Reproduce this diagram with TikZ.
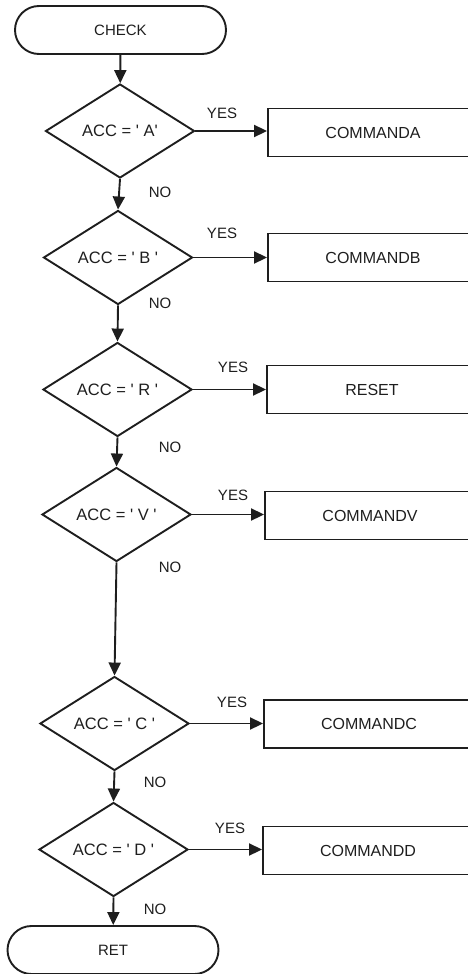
\documentclass[tikz,border=0pt]{standalone}
\usepackage{fontspec}
\setmainfont{Liberation Sans}
\usetikzlibrary{shapes.geometric,arrows.meta}
\definecolor{ink}{RGB}{30,30,30}
\begin{document}
\begin{tikzpicture}[x=1pt,y=-1pt,
  every node/.style={font=\fontsize{15}{18}\selectfont, text=ink},
  flow/.style={draw=ink, line width=1.9pt},
  term/.style={flow, rectangle, rounded corners=24pt, minimum width=211pt, minimum height=48pt, inner sep=0pt},
  test/.style={flow, diamond, minimum width=149pt, minimum height=94pt, inner sep=0pt, font=\fontsize{16.5}{19}\selectfont},
  act/.style={flow, rectangle, minimum width=210pt, minimum height=48pt, inner sep=0pt, font=\fontsize{16}{19}\selectfont},
  link/.style={draw=ink, line width=1.9pt, -{Triangle[length=13pt,width=12pt]}},
  tag/.style={inner sep=0pt}
]
\useasboundingbox (0,0) rectangle (468,974);
\clip (0,0) rectangle (468,974);

% terminals
\node[term] (check) at (120.5,30) {CHECK};
\node[term] (ret)   at (113,950)  {RET};

% decisions
\node[test] (da) at (120,131)   {ACC = \textquotesingle\ A\textquotesingle};
\node[test] (db) at (118,257.5) {ACC = \textquotesingle\ B \textquotesingle};
\node[test] (dr) at (117.5,389.5) {ACC = \textquotesingle\ R \textquotesingle};
\node[test] (dv) at (116.5,514.5) {ACC = \textquotesingle\ V \textquotesingle};
\node[test] (dc) at (114.5,723.5) {ACC = \textquotesingle\ C \textquotesingle};
\node[test] (dd) at (113.5,849.5) {ACC = \textquotesingle\ D \textquotesingle};

% command boxes
\node[act] (ra) at (373,132.5) {COMMANDA};
\node[act] (rb) at (373,257.5) {COMMANDB};
\node[act] (rr) at (372,389.5) {RESET};
\node[act] (rv) at (370,515.5) {COMMANDV};
\node[act] (rc) at (369,724)   {COMMANDC};
\node[act] (rd) at (368,850.5) {COMMANDD};

% branch labels
\node[tag] (ya) at (222,113) {YES};
\node[tag] (na) at (160,192) {NO};
\node[tag] (yb) at (222,233) {YES};
\node[tag] (nb) at (160,303) {NO};
\node[tag] (yr) at (233,367) {YES};
\node[tag] (nr) at (170,447) {NO};
\node[tag] (yv) at (233,495) {YES};
\node[tag] (nv) at (170,567) {NO};
\node[tag] (yc) at (232,702) {YES};
\node[tag] (nc) at (155,782) {NO};
\node[tag] (yd) at (230,828) {YES};
\node[tag] (nd) at (155,909) {NO};

% main chain
\draw[link] (check) -- (da);
\draw[link] (da.south) -- (db.north);
\draw[link] (db.south) -- (dr.north);
\draw[link] (dr.south) -- (dv.north);
\draw[link] (dv.south) -- (dc.north);
\draw[link] (dc.south) -- (dd.north);
\draw[link] (dd.south) -- (ret);

% YES branches
\draw[link] (da.east) -- (da.east -| ra.west);
\draw[link] (db.east) -- (db.east -| rb.west);
\draw[link] (dr.east) -- (dr.east -| rr.west);
\draw[link] (dv.east) -- (dv.east -| rv.west);
\draw[link] (dc.east) -- (dc.east -| rc.west);
\draw[link] (dd.east) -- (dd.east -| rd.west);
\end{tikzpicture}
\end{document}
